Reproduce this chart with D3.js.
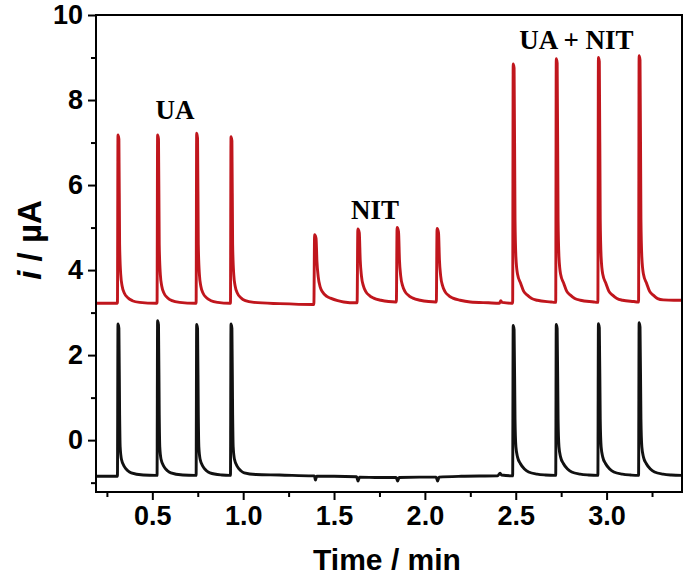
<!DOCTYPE html>
<html>
<head>
<meta charset="utf-8">
<script src="https://cdn.jsdelivr.net/npm/d3@7"></script>
<style>
  html, body { margin: 0; padding: 0; background: #fff; }
  svg { display: block; }
</style>
</head>
<body>
<svg id="chart" width="685" height="581"></svg>
<script>
// ---------------- data (time in min, current in µA) ----------------
const xMajorTicks = [0.5, 1.0, 1.5, 2.0, 2.5, 3.0];
const xMinorTicks = [0.25, 0.75, 1.25, 1.75, 2.25, 2.75, 3.25];
const yMajorTicks = [0, 2, 4, 6, 8, 10];
const yMinorTicks = [-1, 1, 3, 5, 7, 9];

const annotations = [
  { text: "UA", t: 0.625, i: 7.55 },
  { text: "NIT", t: 1.725, i: 5.2 },
  { text: "UA + NIT", t: 2.834, i: 9.2 }
];

// red trace (UA, NIT, UA + NIT injections)
const redTrace = [
  [0.19,3.22],[0.30,3.22],
  [0.308,3.22],[0.311,7.18],[0.316,7.08],[0.320,4.60],[0.326,3.90],[0.334,3.62],[0.347,3.45],[0.365,3.35],[0.39,3.28],[0.43,3.24],[0.52,3.22],
  [0.526,3.22],[0.529,7.18],[0.534,7.08],[0.538,4.60],[0.544,3.90],[0.552,3.62],[0.565,3.45],[0.583,3.35],[0.608,3.28],[0.65,3.24],[0.735,3.22],
  [0.741,3.22],[0.744,7.22],[0.749,7.10],[0.753,4.60],[0.759,3.90],[0.767,3.62],[0.780,3.45],[0.798,3.35],[0.823,3.28],[0.86,3.24],[0.926,3.22],
  [0.930,3.22],[0.933,7.14],[0.938,7.04],[0.942,4.60],[0.948,3.90],[0.956,3.62],[0.969,3.45],[0.987,3.35],[1.012,3.28],[1.06,3.24],[1.2,3.21],[1.383,3.19],
  [1.389,3.19],[1.393,4.83],[1.401,4.75],[1.406,4.20],[1.413,3.84],[1.424,3.60],[1.436,3.49],[1.46,3.38],[1.48,3.34],[1.52,3.28],[1.553,3.25],[1.621,3.23],
  [1.627,3.23],[1.631,4.97],[1.639,4.88],[1.644,4.25],[1.651,3.86],[1.662,3.62],[1.674,3.50],[1.698,3.39],[1.718,3.34],[1.758,3.29],[1.80,3.26],[1.839,3.25],
  [1.843,3.25],[1.847,5.00],[1.855,4.90],[1.860,4.25],[1.867,3.86],[1.878,3.62],[1.890,3.50],[1.914,3.39],[1.934,3.34],[1.974,3.29],[2.02,3.26],[2.058,3.25],
  [2.063,3.25],[2.067,4.98],[2.075,4.88],[2.080,4.25],[2.087,3.86],[2.098,3.62],[2.110,3.50],[2.134,3.39],[2.154,3.34],[2.194,3.29],[2.25,3.25],[2.35,3.23],
  [2.41,3.22],[2.418,3.28],[2.425,3.24],[2.478,3.22],
  [2.483,3.22],[2.486,8.85],[2.491,8.75],[2.496,5.20],[2.501,4.30],[2.510,3.90],[2.527,3.69],[2.544,3.50],[2.564,3.41],[2.588,3.33],[2.619,3.29],[2.695,3.25],[2.716,3.24],
  [2.720,3.24],[2.723,8.97],[2.728,8.87],[2.733,5.20],[2.738,4.30],[2.747,3.90],[2.764,3.69],[2.781,3.50],[2.801,3.41],[2.825,3.33],[2.856,3.29],[2.93,3.25],[2.948,3.24],
  [2.952,3.24],[2.955,9.00],[2.960,8.90],[2.965,5.20],[2.970,4.30],[2.979,3.90],[2.996,3.69],[3.013,3.50],[3.033,3.41],[3.057,3.33],[3.088,3.29],[3.15,3.26],[3.172,3.25],
  [3.176,3.25],[3.179,9.04],[3.184,8.94],[3.189,5.20],[3.194,4.30],[3.203,3.90],[3.220,3.69],[3.237,3.50],[3.257,3.41],[3.281,3.33],[3.312,3.30],[3.37,3.29],[3.42,3.29]
];

// black trace (blank electrode)
const blackTrace = [
  [0.19,-0.85],[0.30,-0.85],
  [0.308,-0.85],[0.311,2.73],[0.316,2.63],[0.320,0.60],[0.323,-0.16],[0.330,-0.45],[0.347,-0.63],[0.365,-0.72],[0.384,-0.77],[0.45,-0.82],[0.52,-0.83],
  [0.526,-0.83],[0.529,2.81],[0.534,2.71],[0.538,0.60],[0.541,-0.16],[0.548,-0.45],[0.565,-0.63],[0.583,-0.72],[0.602,-0.77],[0.668,-0.82],[0.735,-0.83],
  [0.741,-0.83],[0.744,2.72],[0.749,2.62],[0.753,0.60],[0.756,-0.16],[0.763,-0.45],[0.780,-0.63],[0.798,-0.72],[0.817,-0.77],[0.883,-0.82],[0.926,-0.83],
  [0.930,-0.83],[0.933,2.73],[0.938,2.63],[0.942,0.60],[0.945,-0.16],[0.952,-0.45],[0.969,-0.63],[0.987,-0.72],[1.006,-0.77],[1.07,-0.81],[1.2,-0.82],[1.383,-0.84],
  [1.392,-0.84],[1.398,-0.94],[1.404,-0.85],[1.50,-0.85],[1.624,-0.86],[1.632,-0.96],[1.640,-0.87],[1.75,-0.88],[1.842,-0.88],[1.850,-0.96],[1.858,-0.88],
  [1.97,-0.87],[2.062,-0.87],[2.070,-0.96],[2.078,-0.87],[2.2,-0.85],[2.40,-0.84],[2.414,-0.78],[2.422,-0.82],[2.478,-0.84],
  [2.483,-0.84],[2.486,2.70],[2.491,2.60],[2.496,0.50],[2.501,-0.16],[2.510,-0.40],[2.525,-0.55],[2.548,-0.68],[2.571,-0.75],[2.618,-0.80],[2.663,-0.82],[2.716,-0.83],
  [2.720,-0.83],[2.723,2.72],[2.728,2.62],[2.733,0.50],[2.738,-0.16],[2.747,-0.40],[2.762,-0.55],[2.785,-0.68],[2.808,-0.75],[2.855,-0.80],[2.900,-0.82],[2.948,-0.83],
  [2.952,-0.83],[2.955,2.74],[2.960,2.64],[2.965,0.50],[2.970,-0.16],[2.979,-0.40],[2.994,-0.55],[3.017,-0.68],[3.040,-0.75],[3.087,-0.80],[3.132,-0.82],[3.172,-0.83],
  [3.176,-0.83],[3.179,2.76],[3.184,2.66],[3.189,0.50],[3.194,-0.16],[3.203,-0.40],[3.218,-0.55],[3.241,-0.68],[3.264,-0.75],[3.311,-0.80],[3.356,-0.82],[3.42,-0.83]
];

// ---------------- layout ----------------
const svg = d3.select("#chart");
const margin = { left: 96, right: 3, top: 15, bottom: 89 };
const W = 685, H = 581;
const x = d3.scaleLinear().domain([0.19, 3.415]).range([margin.left, W - margin.right]);
const y = d3.scaleLinear().domain([-1.22, 10]).range([H - margin.bottom, margin.top]);

svg.append("defs").append("clipPath").attr("id", "clip")
  .append("rect")
  .attr("x", margin.left).attr("y", margin.top)
  .attr("width", W - margin.right - margin.left)
  .attr("height", H - margin.bottom - margin.top);

const line = d3.line().x(d => x(d[0])).y(d => y(d[1])).curve(d3.curveMonotoneX);

const g = svg.append("g").attr("clip-path", "url(#clip)");
g.append("path").datum(blackTrace)
  .attr("d", line).attr("fill", "none")
  .attr("stroke", "#111").attr("stroke-width", 2.9).attr("stroke-linejoin", "round");
g.append("path").datum(redTrace)
  .attr("d", line).attr("fill", "none")
  .attr("stroke", "#c0161d").attr("stroke-width", 2.9).attr("stroke-linejoin", "round");

// axes
const tickFont = "'Liberation Sans', Arial, sans-serif";
const xAxisMajor = d3.axisBottom(x).tickValues(xMajorTicks).tickFormat(d3.format(".1f")).tickSize(8).tickPadding(6);
const xAxisMinor = d3.axisBottom(x).tickValues(xMinorTicks).tickFormat("").tickSize(5);
const yAxisMajor = d3.axisLeft(y).tickValues(yMajorTicks).tickFormat(d3.format("d")).tickSize(8).tickPadding(5);
const yAxisMinor = d3.axisLeft(y).tickValues(yMinorTicks).tickFormat("").tickSize(5);

function styleAxis(sel) {
  sel.select(".domain").remove();
  sel.selectAll("line").attr("stroke", "#000").attr("stroke-width", 2);
  sel.selectAll("text").attr("fill", "#000")
    .style("font-family", tickFont).style("font-weight", "bold").style("font-size", "27px");
}

svg.append("g").attr("transform", `translate(0,${H - margin.bottom})`).call(xAxisMajor).call(styleAxis);
svg.append("g").attr("transform", `translate(0,${H - margin.bottom})`).call(xAxisMinor).call(styleAxis);
svg.append("g").attr("transform", `translate(${margin.left},0)`).call(yAxisMajor).call(styleAxis);
svg.append("g").attr("transform", `translate(${margin.left},0)`).call(yAxisMinor).call(styleAxis);

// frame
svg.append("rect")
  .attr("x", margin.left).attr("y", margin.top)
  .attr("width", W - margin.right - margin.left)
  .attr("height", H - margin.bottom - margin.top)
  .attr("fill", "none").attr("stroke", "#000").attr("stroke-width", 2);

// axis titles
svg.append("text")
  .attr("x", 387).attr("y", 570)
  .attr("text-anchor", "middle")
  .style("font-family", tickFont).style("font-weight", "bold").style("font-size", "30px")
  .text("Time / min");

const yl = svg.append("text")
  .attr("transform", `translate(41,240) rotate(-90)`)
  .attr("text-anchor", "middle")
  .style("font-family", tickFont).style("font-weight", "bold").style("font-size", "33px");
yl.append("tspan").style("font-style", "italic").text("i");
yl.append("tspan").text(" / µA");

// annotations
svg.selectAll("text.anno").data(annotations).enter().append("text")
  .attr("class", "anno")
  .attr("x", d => x(d.t)).attr("y", d => y(d.i))
  .attr("text-anchor", "middle")
  .style("font-family", "'Liberation Serif', 'Times New Roman', serif")
  .style("font-weight", "bold").style("font-size", "27px")
  .text(d => d.text);
</script>
</body>
</html>
